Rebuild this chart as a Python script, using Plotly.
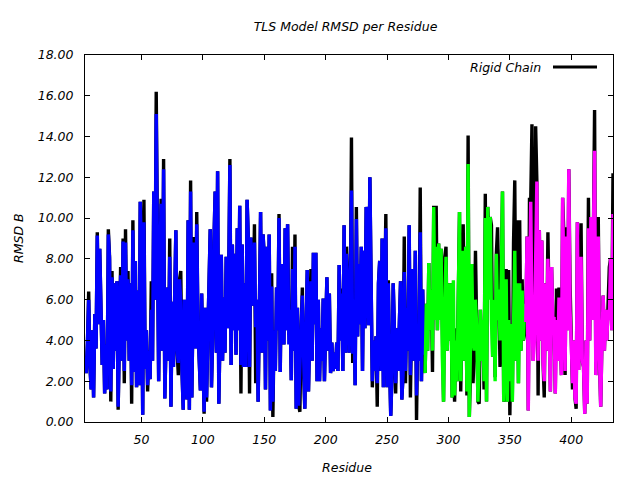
import plotly.graph_objects as go

# Residue numbers
rigid_start = 4
blue_start, green_start, magenta_start = 4, 281, 363

# Rigid chain RMSD (black), residues 4..434
rigid_b = [
    3.2, 2.4, 3.9, 6.4, 2.8, 1.6, 4.5, 1.2, 5.3, 3.6,
    9.3, 4.8, 8.5, 4.2, 2.8, 5.0, 1.4, 3.8, 1.6, 9.45,
    8.1, 1.0, 7.4, 2.6, 6.8, 3.5, 6.9, 0.6, 4.5, 7.6,
    3.0, 9.0, 1.9, 9.45, 4.0, 7.4, 3.0, 6.8, 0.9, 9.9,
    2.45, 7.9, 1.7, 6.45, 1.8, 10.8, 8.1, 0.35, 10.9, 2.6,
    4.5, 1.5, 3.5, 2.1, 6.9, 3.0, 11.3, 6.0, 16.2, 10.4,
    2.0, 8.0, 10.95, 3.5, 12.9, 1.15, 5.0, 6.6, 3.0, 9.0,
    0.75, 5.9, 2.7, 6.0, 9.4, 3.5, 2.3, 7.0, 7.4, 2.5,
    0.6, 6.0, 4.0, 1.1, 9.9, 0.6, 11.85, 1.2, 6.0, 9.07,
    3.6, 10.3, 4.6, 2.7, 1.55, 6.3, 3.6, 0.4, 5.6, 1.0,
    4.2, 7.2, 9.45, 1.7, 4.2, 8.8, 11.3, 3.4, 12.3, 0.9,
    5.5, 8.2, 3.0, 6.1, 3.4, 8.1, 4.6, 7.0, 12.9, 2.8,
    8.7, 4.5, 8.25, 3.3, 9.5, 4.5, 10.6, 1.4, 8.7, 2.7,
    6.8, 2.7, 10.9, 9.0, 1.4, 9.05, 6.8, 5.7, 9.7, 1.9,
    6.0, 1.0, 5.5, 10.3, 3.4, 9.2, 8.1, 1.6, 8.6, 4.0,
    9.2, 0.57, 7.3, 0.25, 4.5, 2.5, 6.6, 4.5, 10.2, 2.45,
    7.75, 6.6, 3.8, 9.5, 4.5, 9.7, 4.6, 5.5, 2.05, 8.6,
    3.5, 9.2, 0.65, 5.6, 0.8, 0.5, 4.5, 6.6, 2.5, 0.65,
    4.0, 7.45, 1.5, 5.0, 7.5, 3.0, 8.3, 4.8, 8.3, 2.0,
    6.0, 2.0, 4.6, 3.0, 6.05, 2.0, 4.5, 7.1, 3.5, 6.3,
    2.4, 3.9, 2.5, 3.4, 2.6, 3.9, 2.5, 7.7, 4.0, 6.55,
    2.5, 9.65, 3.4, 8.6, 6.8, 3.4, 5.5, 13.95, 2.9, 6.0,
    1.8, 10.55, 4.2, 7.75, 4.8, 8.6, 2.5, 8.4, 4.6, 10.55,
    7.6, 4.75, 12.0, 4.65, 1.7, 4.0, 2.5, 4.2, 0.75, 6.8,
    7.9, 2.5, 9.0, 1.7, 5.0, 10.2, 1.7, 6.95, 3.0, 0.3,
    2.3, 6.8, 4.5, 1.4, 4.6, 2.5, 4.8, 6.9, 1.1, 2.3,
    9.1, 1.9, 5.6, 3.5, 9.65, 1.2, 5.0, 7.5, 3.0, 8.4,
    0.1, 4.6, 3.0, 11.5, 2.0, 6.5, 3.3, 2.4, 5.8, 3.5,
    7.8, 4.5, 6.5, 2.45, 10.6, 5.0, 10.6, 4.5, 8.75, 5.0,
    8.5, 3.2, 1.0, 8.1, 8.6, 3.5, 6.8, 4.0, 6.8, 1.2,
    3.0, 1.0, 4.6, 2.0, 5.5, 10.3, 1.5, 6.0, 9.7, 3.0,
    8.6, 1.3, 14.05, 0.25, 2.5, 7.75, 1.9, 3.5, 8.4, 4.65,
    1.0, 0.9, 5.5, 3.0, 5.0, 1.6, 11.2, 1.0, 10.55, 9.1,
    10.05, 9.65, 3.2, 6.0, 2.2, 8.25, 9.55, 6.5, 2.7, 7.0,
    11.3, 1.0, 1.3, 7.5, 1.0, 7.45, 0.33, 4.8, 1.0, 8.8,
    11.85, 3.0, 9.9, 1.9, 9.9, 3.5, 7.0, 4.0, 4.3, 4.9,
    9.1, 0.57, 11.0, 10.8, 14.6, 3.0, 6.0, 14.5, 11.8, 1.3,
    9.4, 4.0, 8.9, 3.0, 1.2, 6.8, 3.5, 9.3, 4.0, 1.5,
    7.6, 5.0, 5.15, 1.4, 6.55, 3.0, 6.6, 3.5, 2.3, 11.0,
    9.15, 2.3, 9.55, 4.5, 12.4, 6.8, 3.85, 1.6, 4.0, 1.2,
    0.65, 9.8, 2.55, 5.0, 9.75, 3.0, 2.7, 0.4, 4.0, 0.9,
    11.0, 4.0, 10.05, 5.0, 8.9, 15.3, 2.3, 6.0, 10.05, 3.0,
    0.75, 4.0, 6.2, 3.5, 5.5, 4.0, 5.5, 7.6, 8.0, 4.5, 12.2,
]

# TLS group 1 (blue), residues 4..280
tls_blue = [
    3.2, 2.4, 3.9, 6.0, 2.8, 1.6, 4.5, 1.2, 5.3, 3.6,
    9.15, 4.8, 8.5, 4.2, 2.8, 5.0, 1.4, 3.8, 1.6, 9.2,
    8.0, 1.5, 7.1, 2.6, 6.8, 3.5, 6.9, 0.75, 4.5, 7.2,
    3.0, 8.85, 2.5, 8.8, 4.0, 7.0, 3.0, 6.8, 1.8, 9.4,
    2.45, 7.9, 1.7, 6.45, 1.8, 10.8, 8.1, 0.35, 9.8, 2.6,
    4.5, 1.8, 3.5, 2.1, 5.5, 3.0, 11.3, 6.0, 15.1, 6.8,
    2.0, 8.0, 10.7, 3.5, 12.4, 1.15, 5.0, 6.6, 3.0, 8.1,
    0.75, 5.9, 2.7, 6.0, 9.4, 3.5, 2.9, 7.0, 5.9, 2.5,
    0.6, 6.0, 4.0, 1.1, 9.9, 0.6, 11.3, 1.2, 6.0, 8.8,
    3.6, 9.7, 4.6, 2.7, 1.55, 6.3, 3.6, 0.5, 5.6, 1.2,
    4.2, 7.0, 9.45, 1.7, 4.2, 8.8, 11.3, 3.4, 12.3, 0.9,
    5.5, 8.2, 3.0, 6.1, 3.4, 8.1, 4.6, 7.0, 12.6, 2.8,
    8.7, 4.5, 8.25, 3.3, 9.5, 4.5, 10.6, 2.8, 8.7, 2.7,
    6.8, 2.7, 10.9, 9.0, 2.7, 9.05, 6.8, 5.7, 8.8, 4.65,
    6.0, 1.0, 5.5, 10.3, 3.4, 9.2, 8.1, 1.6, 8.6, 4.0,
    9.2, 0.57, 6.65, 1.0, 4.5, 2.5, 6.6, 4.5, 10.0, 2.45,
    7.75, 6.6, 3.8, 9.5, 4.5, 9.7, 3.8, 5.5, 2.05, 7.5,
    3.5, 8.6, 0.65, 5.6, 0.8, 3.5, 4.5, 6.2, 2.5, 0.65,
    4.0, 7.45, 1.5, 5.0, 6.9, 3.0, 8.3, 4.8, 8.3, 2.0,
    6.0, 2.0, 4.6, 3.0, 6.05, 2.0, 4.5, 7.1, 3.5, 6.3,
    2.4, 3.9, 2.5, 3.4, 2.6, 3.9, 2.5, 7.7, 4.0, 6.3,
    2.5, 9.65, 3.4, 8.25, 6.8, 3.4, 5.5, 11.35, 3.35, 6.0,
    1.8, 9.95, 4.2, 7.75, 4.8, 8.6, 2.5, 8.4, 4.6, 10.55,
    7.6, 4.75, 12.0, 4.65, 2.0, 4.0, 2.5, 4.2, 1.9, 6.8,
    7.9, 2.5, 9.0, 1.7, 5.0, 9.5, 1.7, 6.8, 3.0, 0.3,
    2.3, 6.8, 4.5, 1.9, 4.6, 2.5, 4.8, 6.9, 1.1, 2.3,
    7.35, 2.5, 5.6, 3.5, 9.65, 2.3, 5.0, 7.5, 3.0, 8.4,
    1.3, 4.6, 3.0, 9.3, 2.0, 6.5, 3.3,
]

# TLS group 2 (green), residues 281..362
tls_green = [
    2.4, 5.8, 3.5, 7.8, 4.5, 6.5, 3.5, 10.55, 5.0, 8.6,
    4.5, 8.75, 5.0, 8.5, 3.2, 1.0, 5.5, 8.1, 3.5, 6.8,
    4.0, 6.8, 1.2, 6.95, 1.3, 4.0, 2.0, 5.5, 10.3, 2.0,
    6.0, 8.4, 3.0, 8.6, 1.5, 12.65, 0.25, 5.0, 7.75, 4.0,
    3.5, 6.0, 4.65, 1.0, 3.0, 5.5, 3.0, 5.0, 2.0, 10.0,
    1.0, 10.55, 6.0, 10.05, 5.0, 3.2, 6.0, 2.0, 8.25, 5.0,
    6.5, 4.0, 7.0, 11.3, 1.0, 4.5, 7.0, 1.0, 5.0, 2.0,
    4.8, 1.0, 5.5, 8.4, 3.0, 6.8, 1.9, 6.8, 3.5, 6.45, 4.0, 5.8,
]

# TLS group 3 (magenta), residues 363..434
tls_magenta = [
    4.9, 9.1, 0.57, 7.0, 10.8, 5.0, 3.0, 4.0, 8.0, 11.8,
    3.0, 9.4, 4.0, 8.9, 3.0, 2.0, 6.8, 3.5, 8.0, 4.0,
    1.5, 7.6, 5.0, 5.15, 1.4, 5.0, 3.0, 6.1, 3.5, 2.3,
    11.0, 6.1, 2.5, 9.1, 4.5, 12.4, 5.5, 3.85, 1.9, 4.0,
    1.2, 0.9, 9.8, 2.55, 5.0, 8.1, 3.0, 2.7, 0.4, 4.0,
    0.9, 9.5, 4.0, 10.05, 5.0, 8.9, 13.3, 2.3, 6.0, 9.1,
    3.0, 0.75, 4.0, 6.2, 3.5, 5.5, 4.0, 5.5, 5.0, 8.0,
    4.5, 10.2,
]

x_ticks = [50, 100, 150, 200, 250, 300, 350, 400]
y_ticks = [0, 2, 4, 6, 8, 10, 12, 14, 16, 18]


def res(start, vals):
    return list(range(start, start + len(vals)))


FONT = "DejaVu Sans"
FS = 12.5
LW = 3.4

fig = go.Figure()
fig.add_trace(go.Scatter(x=res(rigid_start, rigid_b), y=rigid_b, mode="lines",
                         name="Rigid Chain", line=dict(color="#000000", width=LW),
                         showlegend=False))
fig.add_trace(go.Scatter(x=res(blue_start, tls_blue), y=tls_blue, mode="lines",
                         name="TLS group 1", line=dict(color="#0000ff", width=LW),
                         showlegend=False))
fig.add_trace(go.Scatter(x=res(green_start, tls_green), y=tls_green, mode="lines",
                         name="TLS group 2", line=dict(color="#00ff00", width=LW),
                         showlegend=False))
fig.add_trace(go.Scatter(x=res(magenta_start, tls_magenta), y=tls_magenta, mode="lines",
                         name="TLS group 3", line=dict(color="#ff00ff", width=LW),
                         showlegend=False))

axis_common = dict(showgrid=False, zeroline=False, showline=True, linecolor="#000000",
                   linewidth=1, mirror="ticks", ticks="inside", ticklen=5,
                   tickcolor="#000000", tickwidth=1,
                   tickfont=dict(family=FONT, size=FS, color="#000000", style="italic"))

fig.update_layout(
    width=640, height=480,
    margin=dict(l=85, r=27, t=55, b=58),
    paper_bgcolor="#ffffff", plot_bgcolor="#ffffff",
    font=dict(family=FONT, size=FS, color="#000000", style="italic"),
    title=dict(text="TLS Model RMSD per Residue", x=345.5 / 640, xanchor="center",
               y=1 - 27 / 480, yanchor="middle",
               font=dict(family=FONT, size=FS, color="#000000", style="italic")),
    xaxis=dict(range=[4, 434], tickvals=x_ticks, ticktext=[str(v) for v in x_ticks],
               ticklabelstandoff=6, **axis_common),
    yaxis=dict(range=[0, 18], tickvals=y_ticks,
               ticktext=["%.2f" % v for v in y_ticks],
               ticklabelstandoff=8, **axis_common),
    showlegend=False,
)

# axis titles
fig.add_annotation(text="Residue", xref="paper", yref="paper",
                   x=(347 - 85) / 528, y=(422 - 467) / 367, xanchor="center",
                   yanchor="middle", showarrow=False,
                   font=dict(family=FONT, size=FS, color="#000000", style="italic"))
fig.add_annotation(text="RMSD B", xref="paper", yref="paper",
                   x=(18 - 85) / 528, y=(422 - 238) / 367, xanchor="center",
                   yanchor="middle", textangle=-90, showarrow=False,
                   font=dict(family=FONT, size=FS, color="#000000", style="italic"))

# gnuplot-style key: text then line sample
key_y = (422 - 67) / 367
fig.add_annotation(text="Rigid Chain", xref="paper", yref="paper",
                   x=(543 - 85) / 528, y=key_y, xanchor="right", yanchor="middle",
                   showarrow=False,
                   font=dict(family=FONT, size=FS, color="#000000", style="italic"))
fig.add_shape(type="line", xref="paper", yref="paper",
              x0=(553 - 85) / 528, x1=(597 - 85) / 528, y0=key_y, y1=key_y,
              line=dict(color="#000000", width=3))

fig.write_html("out.html")
